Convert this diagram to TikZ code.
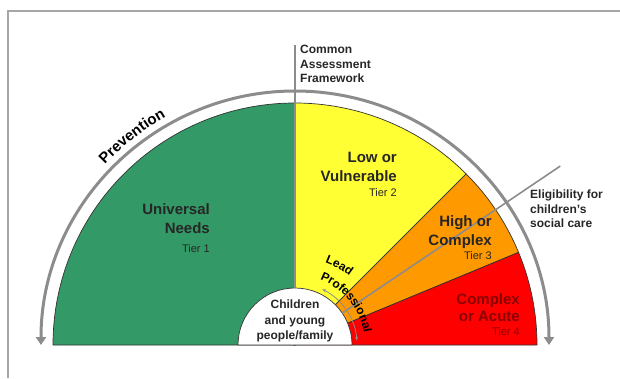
\documentclass[tikz,border=0pt]{standalone}
\usepackage{fontspec}
\setmainfont{Liberation Sans}
\usetikzlibrary{%
		arrows.meta%
		,decorations.text%
	}
\definecolor{tieronegreen}{HTML}{339966}
\definecolor{tiertwoyellow}{HTML}{FFFF33}
\definecolor{tierthreeorange}{HTML}{FF9900}
\definecolor{tierfourred}{HTML}{FF0000}
\definecolor{acutetext}{HTML}{8B0000}
\definecolor{guidegray}{HTML}{8C8C8C}

\newcommand{\tierline}[1]{{\fontsize{11}{13}\selectfont\mdseries Tier #1}}
\newcommand{\arcfont}{\fontsize{12}{12}\selectfont\bfseries}
\newcommand{\prevfont}{\fontsize{15}{15}\selectfont\bfseries}

\begin{document}
\begin{tikzpicture}[x=1pt, y=1pt,
		wedge/.style={draw=black!80, line width=0.7pt},
		marker/.style={guidegray, line width=1.6pt},
		tierlabel/.style={align=right, inner sep=0pt, text=black!85, font=\fontsize{15}{19}\selectfont\bfseries},
		sidelabel/.style={align=left, inner sep=0pt, text=black!85, font=\fontsize{12}{14.5}\selectfont\bfseries}]
			\useasboundingbox (-295,-33) rectangle (325,345);
			% frame
			\draw[gray!70, line width=1.2pt] (-287,-33) -- (-287,334) -- (325,334);
			
			% Tiers
			\draw[wedge, fill=tieronegreen] (0,0) -- (180:242) arc [start angle=180, end angle=90, radius=242] -- cycle;
			\draw[wedge, fill=tiertwoyellow] (0,0) -- (90:242) arc [start angle=90, end angle=45, radius=242] -- cycle;
			\draw[wedge, fill=tierthreeorange] (0,0) -- (45:242) arc [start angle=45, end angle=22.5, radius=242] -- cycle;
			\draw[wedge, fill=tierfourred] (0,0) -- (22.5:242) arc [start angle=22.5, end angle=0, radius=242] -- cycle;
			
			% Children in the middle
			\draw[wedge, fill=white] (-57,0) arc [start angle=180, end angle=0, radius=57] -- cycle;
			\node[inner sep=0pt, align=center, text=black!85, font=\fontsize{12}{15.5}\selectfont\bfseries] (child) at (0,24) {Children\\and young\\people/family};
			
			% Prevention arrow
			\draw[guidegray, line width=3pt, {Triangle[width=10pt, length=8pt]}-{Triangle[width=10pt, length=8pt]}] (180:254) arc [start angle=180, end angle=0, radius=254];
			\path[decorate, decoration={text along path, text align=center, text={|\prevfont|Prevention}}] (150:262) arc [start angle=150, end angle=106, radius=262];
			
			% CAF
			\coordinate (caf in) at (90:57);
			\coordinate (caf out) at (90:300);
			\draw[marker] (caf in) -- (caf out);
			\node[sidelabel, anchor=north west] (caf) at (5,300) {Common\\Assessment\\Framework};
			
			% Eligibility
			\coordinate (elig in) at (34:57);
			\coordinate (elig out) at (34:320);
			\draw[marker] (elig in) -- (elig out);
			\node[sidelabel, anchor=north west] (elig) at (235,155) {Eligibility for\\children's\\social care};
			
			% Lead professional
			\draw[guidegray, line width=0.8pt, {Stealth[length=4pt]}-{Stealth[length=4pt]}] (64:62) arc [start angle=64, end angle=4, radius=62];
			\path[decorate, decoration={text along path, text={|\arcfont|Lead}}] (70:88) arc [start angle=70, end angle=30, radius=88];
			\path[decorate, decoration={text along path, text={|\arcfont|Professional}}] (69:70) arc [start angle=69, end angle=0, radius=70];
			
			% Labels
			\node[tierlabel, anchor=north east] (universal) at (-85,142) {Universal\\Needs\\\tierline{1}};
			\node[tierlabel, anchor=north east] (low) at (102,193) {Low or\\Vulnerable\\[-4pt]\tierline{2}};
			\node[tierlabel, anchor=north east] (high) at (197,130) {High or\\Complex\\[-5pt]\tierline{3}};
			\node[tierlabel, anchor=north east, text=acutetext] (acute) at (225,52) {Complex\\[-2pt]or Acute\\[-5pt]\tierline{4}};
		\end{tikzpicture}
\end{document}
